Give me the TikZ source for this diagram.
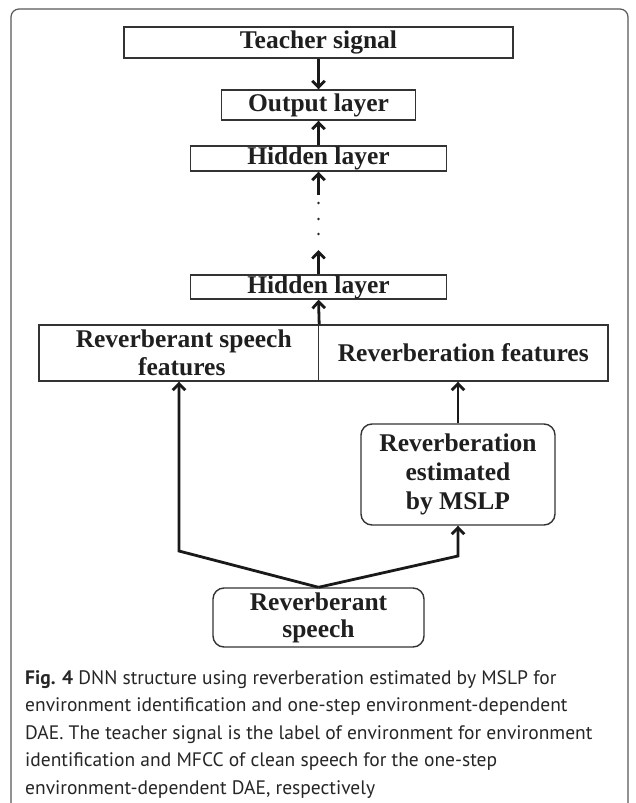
\documentclass[tikz,border=0pt]{standalone}
\usepackage{fontspec}
\setmainfont{Liberation Serif}
\newfontfamily\capfont{PT Sans}
\usetikzlibrary{arrows.meta}
\begin{document}
\begin{tikzpicture}[x=1pt,y=-1pt,
  box/.style={draw=black!80, line width=1.4pt, inner sep=0pt, align=center,
    text=black!88, font=\fontsize{25.5}{28}\selectfont\bfseries},
  rbox/.style={box, rounded corners=11pt},
  arr/.style={draw=black!90, line width=2.8pt, -{Straight Barb[length=6.5pt,width=12.5pt]}},
  capline/.style={anchor=base west, inner sep=0pt, text=black!85,
    font=\capfont\fontsize{19.5}{27.5}\selectfont},
  dotmark/.style={fill=black!85}
]
\useasboundingbox (0,0) rectangle (636,803);
\fill[white] (0,0) rectangle (636,803);
\begin{scope}
  \clip (0,0) rectangle (636,803);
  \draw[black!65, line width=1.2pt, rounded corners=8pt] (11,9) rectangle (628,860);
\end{scope}

\node[box, minimum width=389pt, minimum height=31pt] (teach) at (318.5,42.5) {Teacher signal};
\node[box, minimum width=194pt, minimum height=30pt] (out) at (318.5,105) {Output layer};
\node[box, minimum width=256pt, minimum height=25pt] (hid1) at (318.5,158.5) {Hidden layer};
\node[box, minimum width=256pt, minimum height=24pt] (hid2) at (318.5,287) {Hidden layer};
\node[box, minimum width=279.5pt, minimum height=56pt] (bigL) at (178.75,353) {\hspace*{10pt}Reverberant speech\\\hspace*{6pt}features};
\node[box, minimum width=289.5pt, minimum height=56pt] (bigR) at (463.25,353) {Reverberation features};
\node[rbox, minimum width=194pt, minimum height=101pt, font=\fontsize{25.5}{29}\selectfont\bfseries] (mslp) at (458,474.5) {Reverberation\\estimated\\by MSLP};
\node[rbox, minimum width=211pt, minimum height=59pt, font=\fontsize{25.5}{27}\selectfont\bfseries] (speech) at (318.5,617.5) {Reverberant\\speech};

\coordinate (d1) at (318.5,195);
\coordinate (d2) at (318.5,250);
\coordinate (cl) at (179,551);
\coordinate (cr) at (458,556);

\draw[arr] (teach.south) -- (out.north);
\draw[arr] (hid1.north) -- (out.south);
\draw[arr] (d1) -- (hid1.south);
\fill[dotmark] (318.5,203) circle (1.4pt);
\fill[dotmark] (318.5,219) circle (1.4pt);
\fill[dotmark] (318.5,234) circle (1.4pt);
\draw[arr] (hid2.north) -- (d2);
\draw[arr] (bigL.north east) -- (hid2.south);
\draw[arr] (mslp.north) -- (mslp.north |- bigR.south);
\draw[arr, line join=miter] (speech.north) -- (cl) -- (cl |- bigL.south);
\draw[arr, line join=miter] (speech.north) -- (cr) -- (mslp.south);

\node[capline] (cap1) at (25,684) {\textbf{Fig. 4} DNN structure using reverberation estimated by MSLP for};
\node[capline] (cap2) at (25,711.5) {environment identification and one-step environment-dependent};
\node[capline] (cap3) at (25,739) {DAE. The teacher signal is the label of environment for environment};
\node[capline] (cap4) at (25,766.5) {identification and MFCC of clean speech for the one-step};
\node[capline] (cap5) at (25,794) {environment-dependent DAE, respectively};
\end{tikzpicture}
\end{document}
